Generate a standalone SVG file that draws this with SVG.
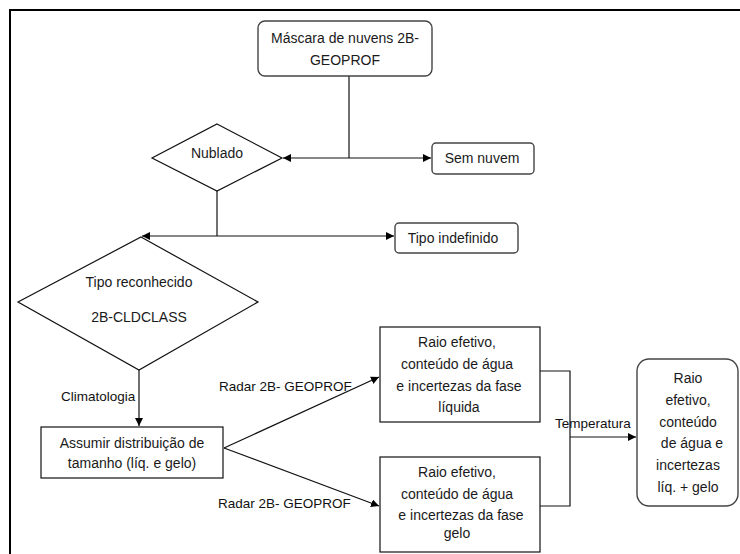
<svg xmlns="http://www.w3.org/2000/svg" width="740" height="554" viewBox="0 0 740 554">
<defs>
<style>
.t{font-family:"Liberation Sans",Arial,sans-serif;font-size:14px;fill:#1a1a1a;text-anchor:middle;dominant-baseline:central}
.l{font-family:"Liberation Sans",Arial,sans-serif;font-size:13.5px;fill:#111;dominant-baseline:central}
.rb{fill:#fff;stroke:#444;stroke-width:1.4}
.b{fill:#fff;stroke:#111;stroke-width:1.2}
.c{fill:none;stroke:#111;stroke-width:1.2}
</style>
<marker id="ah" viewBox="0 0 10 10" refX="10" refY="5" markerWidth="8" markerHeight="8" markerUnits="userSpaceOnUse" orient="auto-start-reverse">
<path d="M0,0 L10,5 L0,10 z" fill="#000"/>
</marker>
</defs>
<rect width="740" height="554" fill="#fff"/>
<path d="M10,554 V10 H740" fill="none" stroke="#000" stroke-width="2"/>

<g id="connectors">
<line class="c" x1="349" y1="76" x2="349" y2="158"/>
<line class="c" x1="283" y1="158" x2="431" y2="158" marker-start="url(#ah)" marker-end="url(#ah)"/>
<line class="c" x1="217" y1="191" x2="217" y2="236"/>
<line class="c" x1="142" y1="236" x2="394" y2="236" marker-start="url(#ah)" marker-end="url(#ah)"/>
<line class="c" x1="139" y1="370" x2="139" y2="426" marker-end="url(#ah)"/>
<line class="c" x1="224" y1="448" x2="379" y2="377" marker-end="url(#ah)"/>
<line class="c" x1="224" y1="448" x2="379" y2="506" marker-end="url(#ah)"/>
<polyline class="c" points="540,371 570,371 570,506 540,506"/>
<line class="c" x1="570" y1="437" x2="636" y2="437" marker-end="url(#ah)"/>
<text class="l" x="61" y="396">Climatologia</text>
<text class="l" x="219" y="386">Radar 2B- GEOPROF</text>
<text class="l" x="218" y="503">Radar 2B- GEOPROF</text>
<text class="l" x="555" y="423">Temperatura</text>
</g>

<g id="mascara">
<rect class="rb" x="258" y="21" width="174" height="55" rx="7"/>
<text class="t" x="345" y="38">Máscara de nuvens 2B-</text>
<text class="t" x="345" y="60">GEOPROF</text>
</g>

<g id="nublado">
<polygon class="b" points="217,124 282,158 217,191 152,158"/>
<text class="t" x="217" y="153">Nublado</text>
</g>

<g id="sem-nuvem">
<rect class="rb" x="432" y="143" width="102" height="31" rx="4"/>
<text class="t" x="482" y="158">Sem nuvem</text>
</g>

<g id="tipo-indefinido">
<rect class="rb" x="395" y="223" width="123" height="30" rx="4"/>
<text class="t" x="453" y="238">Tipo indefinido</text>
</g>

<g id="tipo-reconhecido">
<polygon class="b" points="141,237 258,302 139,370 18,302"/>
<text class="t" x="139" y="282">Tipo reconhecido</text>
<text class="t" x="139" y="317">2B-CLDCLASS</text>
</g>

<g id="assumir">
<rect class="b" x="41" y="427" width="182" height="51"/>
<text class="t" x="132" y="443">Assumir distribuição de</text>
<text class="t" x="132" y="463">tamanho (líq. e gelo)</text>
</g>

<g id="fase-liquida">
<rect class="b" x="380" y="327" width="160" height="95"/>
<text class="t" x="457" y="342">Raio efetivo,</text>
<text class="t" x="457" y="364">conteúdo de água</text>
<text class="t" x="459" y="386">e  incertezas da fase</text>
<text class="t" x="459" y="407">líquida</text>
</g>

<g id="fase-gelo">
<rect class="b" x="380" y="457" width="160" height="95"/>
<text class="t" x="457" y="472">Raio efetivo,</text>
<text class="t" x="457" y="494">conteúdo de água</text>
<text class="t" x="461" y="515">e incertezas da fase</text>
<text class="t" x="457" y="533">gelo</text>
</g>

<g id="resultado">
<rect class="rb" x="637" y="359" width="101" height="147" rx="12"/>
<text class="t" x="688" y="378">Raio</text>
<text class="t" x="688" y="400">efetivo,</text>
<text class="t" x="688" y="422">conteúdo</text>
<text class="t" x="692" y="443">de água e</text>
<text class="t" x="688" y="465">incertezas</text>
<text class="t" x="688" y="487">líq. + gelo</text>
</g>
</svg>
